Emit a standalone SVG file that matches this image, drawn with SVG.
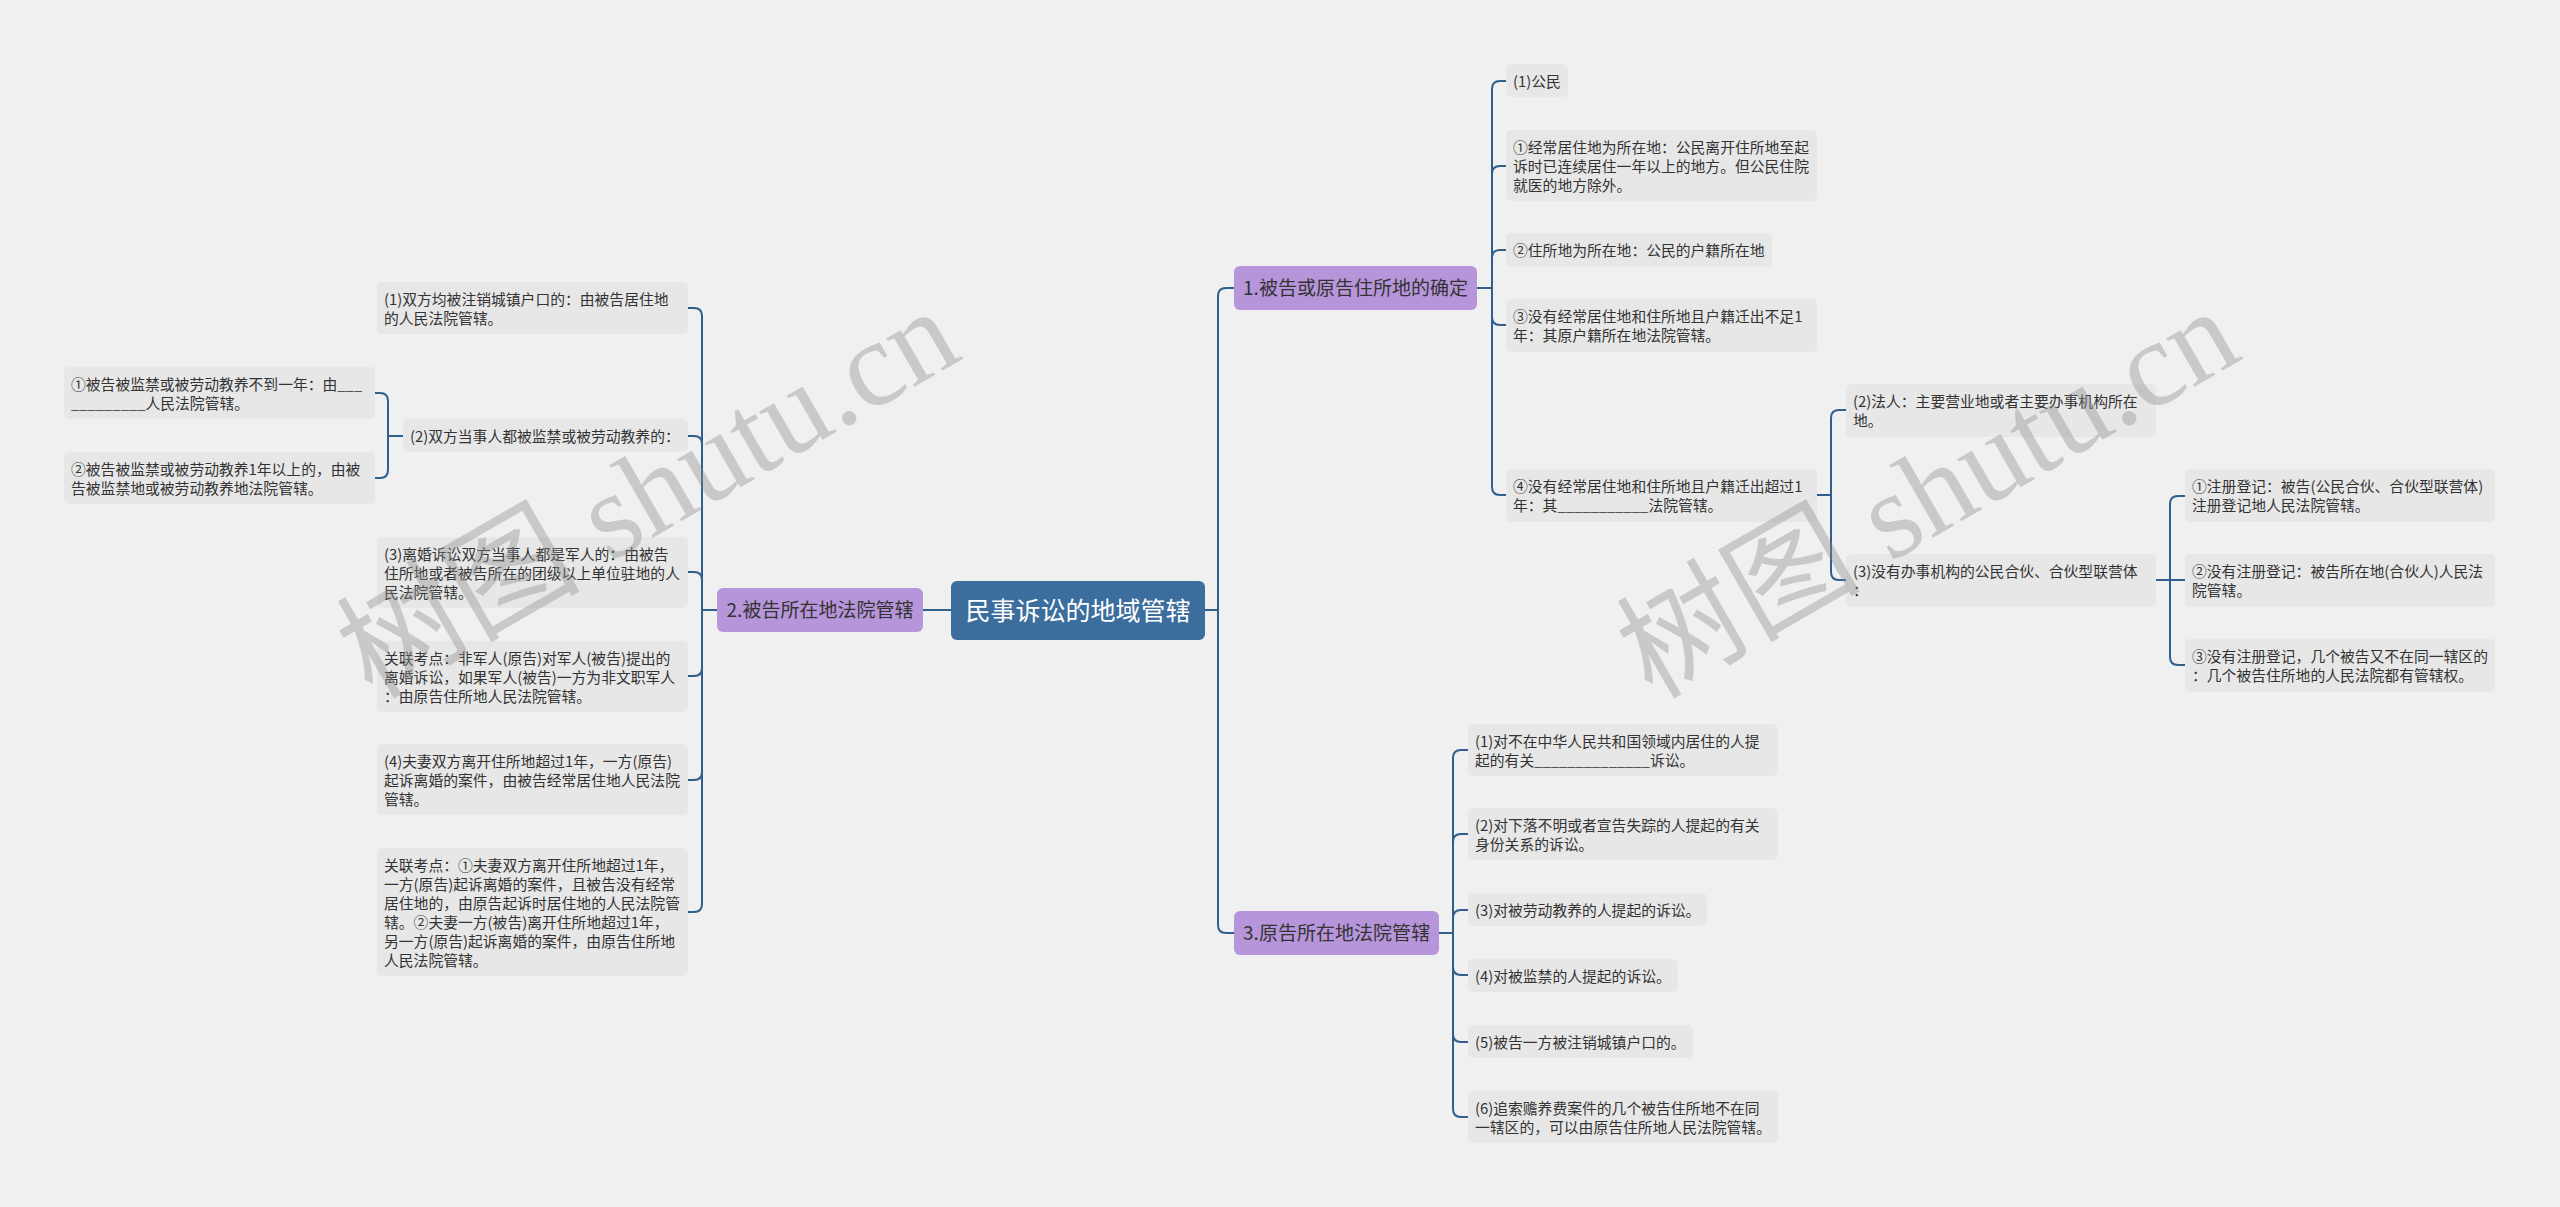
<svg xmlns="http://www.w3.org/2000/svg" width="2560" height="1207" viewBox="0 0 2560 1207">
<style>
.box{fill:#e7e7e7}
.t{font-family:"Noto Sans CJK SC","Noto Sans",sans-serif;font-size:14.8px;fill:#333}
.l1{fill:#b795da}
.l1t{font-family:"Noto Sans CJK SC","Noto Sans",sans-serif;font-size:19px;fill:#333;text-anchor:middle}
.root{fill:#3b6d9d}
.rt{font-family:"Noto Sans CJK SC","Noto Sans",sans-serif;font-size:25px;fill:#fff;text-anchor:middle}
.c{fill:none;stroke:#2f5f8c;stroke-width:2}
.wm{font-family:"Liberation Serif","Noto Sans CJK SC",serif;font-size:122px;fill:#8c8c8c;opacity:.38}
</style>
<rect width="2560" height="1207" fill="#f0f0f0"/>
<g id="connectors">
<path class="c" d="M951 610H923"/>
<path class="c" d="M1205 610H1218M1218 610V296Q1218 288 1226 288H1234M1218 610V925Q1218 933 1226 933H1234"/>
<path class="c" d="M1477 288H1492M1492 288V89Q1492 81 1500 81H1506M1492 288V174Q1492 166 1500 166H1506M1492 288V258Q1492 250 1500 250H1506M1492 288V317Q1492 325 1500 325H1506M1492 288V487Q1492 495 1500 495H1506"/>
<path class="c" d="M1817 495H1831M1831 495V418Q1831 410 1839 410H1846M1831 495V572Q1831 580 1839 580H1846"/>
<path class="c" d="M2156 580H2185M2170 580V504Q2170 496 2178 496H2185M2170 580V657Q2170 665 2178 665H2185"/>
<path class="c" d="M1439 933H1453M1453 933V758Q1453 750 1461 750H1468M1453 933V842Q1453 834 1461 834H1468M1453 933V918Q1453 910 1461 910H1468M1453 933V967Q1453 975 1461 975H1468M1453 933V1034Q1453 1042 1461 1042H1468M1453 933V1109Q1453 1117 1461 1117H1468"/>
<path class="c" d="M717 610H702M702 610V316Q702 308 694 308H688M702 610V444Q702 436 694 436H688M702 610V580Q702 572 694 572H688M702 610V668Q702 676 694 676H688M702 610V772Q702 780 694 780H688M702 610V904Q702 912 694 912H688"/>
<path class="c" d="M403 436H388M388 436V401Q388 393 380 393H375M388 436V470Q388 478 380 478H375"/>
</g>
<g id="root"><rect class="root" x="951" y="581" width="254" height="59" rx="6"/><text class="rt" x="1078" y="619.5">民事诉讼的地域管辖</text></g>
<g id="n1"><rect class="l1" x="1234" y="266" width="243" height="44" rx="6"/><text class="l1t" x="1355.5" y="295">1.被告或原告住所地的确定</text></g>
<g id="n2"><rect class="l1" x="717" y="588" width="206" height="44" rx="6"/><text class="l1t" x="820" y="617">2.被告所在地法院管辖</text></g>
<g id="n3"><rect class="l1" x="1234" y="911" width="205" height="44" rx="6"/><text class="l1t" x="1336.5" y="940">3.原告所在地法院管辖</text></g>
<g id="l1"><rect class="box" x="377" y="282" width="311" height="52" rx="5"/><text class="t"><tspan x="384" y="304.5">(1)双方均被注销城镇户口的：由被告居住地</tspan><tspan x="384" y="323.5">的人民法院管辖。</tspan></text></g>
<g id="l2"><rect class="box" x="403" y="419" width="285" height="33" rx="5"/><text class="t"><tspan x="410" y="441.5">(2)双方当事人都被监禁或被劳动教养的：</tspan></text></g>
<g id="l2a"><rect class="box" x="64" y="367" width="311" height="52" rx="5"/><text class="t"><tspan x="71" y="389.5">①被告被监禁或被劳动教养不到一年：由___</tspan><tspan x="71" y="408.5">_________人民法院管辖。</tspan></text></g>
<g id="l2b"><rect class="box" x="64" y="452" width="311" height="52" rx="5"/><text class="t"><tspan x="71" y="474.5">②被告被监禁或被劳动教养1年以上的，由被</tspan><tspan x="71" y="493.5">告被监禁地或被劳动教养地法院管辖。</tspan></text></g>
<g id="l3"><rect class="box" x="377" y="537" width="311" height="71" rx="5"/><text class="t"><tspan x="384" y="559.5">(3)离婚诉讼双方当事人都是军人的：由被告</tspan><tspan x="384" y="578.5">住所地或者被告所在的团级以上单位驻地的人</tspan><tspan x="384" y="597.5">民法院管辖。</tspan></text></g>
<g id="l4"><rect class="box" x="377" y="641" width="311" height="71" rx="5"/><text class="t"><tspan x="384" y="663.5">关联考点：非军人(原告)对军人(被告)提出的</tspan><tspan x="384" y="682.5">离婚诉讼，如果军人(被告)一方为非文职军人</tspan><tspan x="384" y="701.5">：由原告住所地人民法院管辖。</tspan></text></g>
<g id="l5"><rect class="box" x="377" y="744" width="311" height="71" rx="5"/><text class="t"><tspan x="384" y="766.5">(4)夫妻双方离开住所地超过1年，一方(原告)</tspan><tspan x="384" y="785.5">起诉离婚的案件，由被告经常居住地人民法院</tspan><tspan x="384" y="804.5">管辖。</tspan></text></g>
<g id="l6"><rect class="box" x="377" y="848" width="311" height="128" rx="5"/><text class="t"><tspan x="384" y="870.5">关联考点：①夫妻双方离开住所地超过1年，</tspan><tspan x="384" y="889.5">一方(原告)起诉离婚的案件，且被告没有经常</tspan><tspan x="384" y="908.5">居住地的，由原告起诉时居住地的人民法院管</tspan><tspan x="384" y="927.5">辖。②夫妻一方(被告)离开住所地超过1年，</tspan><tspan x="384" y="946.5">另一方(原告)起诉离婚的案件，由原告住所地</tspan><tspan x="384" y="965.5">人民法院管辖。</tspan></text></g>
<g id="r1"><rect class="box" x="1506" y="64" width="62" height="33" rx="5"/><text class="t"><tspan x="1513" y="86.5">(1)公民</tspan></text></g>
<g id="r2"><rect class="box" x="1506" y="130" width="311" height="71" rx="5"/><text class="t"><tspan x="1513" y="152.5">①经常居住地为所在地：公民离开住所地至起</tspan><tspan x="1513" y="171.5">诉时已连续居住一年以上的地方。但公民住院</tspan><tspan x="1513" y="190.5">就医的地方除外。</tspan></text></g>
<g id="r3"><rect class="box" x="1506" y="233" width="266" height="34" rx="5"/><text class="t"><tspan x="1513" y="255.5">②住所地为所在地：公民的户籍所在地</tspan></text></g>
<g id="r4"><rect class="box" x="1506" y="299" width="311" height="53" rx="5"/><text class="t"><tspan x="1513" y="321.5">③没有经常居住地和住所地且户籍迁出不足1</tspan><tspan x="1513" y="340.5">年：其原户籍所在地法院管辖。</tspan></text></g>
<g id="r5"><rect class="box" x="1506" y="469" width="311" height="53" rx="5"/><text class="t"><tspan x="1513" y="491.5">④没有经常居住地和住所地且户籍迁出超过1</tspan><tspan x="1513" y="510.5">年：其___________法院管辖。</tspan></text></g>
<g id="r5a"><rect class="box" x="1846" y="384" width="310" height="53" rx="5"/><text class="t"><tspan x="1853" y="406.5">(2)法人：主要营业地或者主要办事机构所在</tspan><tspan x="1853" y="425.5">地。</tspan></text></g>
<g id="r5b"><rect class="box" x="1846" y="554" width="310" height="53" rx="5"/><text class="t"><tspan x="1853" y="576.5">(3)没有办事机构的公民合伙、合伙型联营体</tspan><tspan x="1853" y="595.5">：</tspan></text></g>
<g id="r5b1"><rect class="box" x="2185" y="469" width="310" height="53" rx="5"/><text class="t"><tspan x="2192" y="491.5">①注册登记：被告(公民合伙、合伙型联营体)</tspan><tspan x="2192" y="510.5">注册登记地人民法院管辖。</tspan></text></g>
<g id="r5b2"><rect class="box" x="2185" y="554" width="310" height="53" rx="5"/><text class="t"><tspan x="2192" y="576.5">②没有注册登记：被告所在地(合伙人)人民法</tspan><tspan x="2192" y="595.5">院管辖。</tspan></text></g>
<g id="r5b3"><rect class="box" x="2185" y="639" width="310" height="53" rx="5"/><text class="t"><tspan x="2192" y="661.5">③没有注册登记，几个被告又不在同一辖区的</tspan><tspan x="2192" y="680.5">：几个被告住所地的人民法院都有管辖权。</tspan></text></g>
<g id="b1"><rect class="box" x="1468" y="724" width="310" height="52" rx="5"/><text class="t"><tspan x="1475" y="746.5">(1)对不在中华人民共和国领域内居住的人提</tspan><tspan x="1475" y="765.5">起的有关______________诉讼。</tspan></text></g>
<g id="b2"><rect class="box" x="1468" y="808" width="310" height="52" rx="5"/><text class="t"><tspan x="1475" y="830.5">(2)对下落不明或者宣告失踪的人提起的有关</tspan><tspan x="1475" y="849.5">身份关系的诉讼。</tspan></text></g>
<g id="b3"><rect class="box" x="1468" y="893" width="239" height="33" rx="5"/><text class="t"><tspan x="1475" y="915.5">(3)对被劳动教养的人提起的诉讼。</tspan></text></g>
<g id="b4"><rect class="box" x="1468" y="959" width="210" height="33" rx="5"/><text class="t"><tspan x="1475" y="981.5">(4)对被监禁的人提起的诉讼。</tspan></text></g>
<g id="b5"><rect class="box" x="1468" y="1025" width="225" height="33" rx="5"/><text class="t"><tspan x="1475" y="1047.5">(5)被告一方被注销城镇户口的。</tspan></text></g>
<g id="b6"><rect class="box" x="1468" y="1091" width="310" height="52" rx="5"/><text class="t"><tspan x="1475" y="1113.5">(6)追索赡养费案件的几个被告住所地不在同</tspan><tspan x="1475" y="1132.5">一辖区的，可以由原告住所地人民法院管辖。</tspan></text></g>
<g id="watermark">
<text class="wm" transform="translate(372 700) rotate(-30)">树图 shutu.cn</text>
<text class="wm" transform="translate(1652 700) rotate(-30)">树图 shutu.cn</text>
</g>
</svg>
